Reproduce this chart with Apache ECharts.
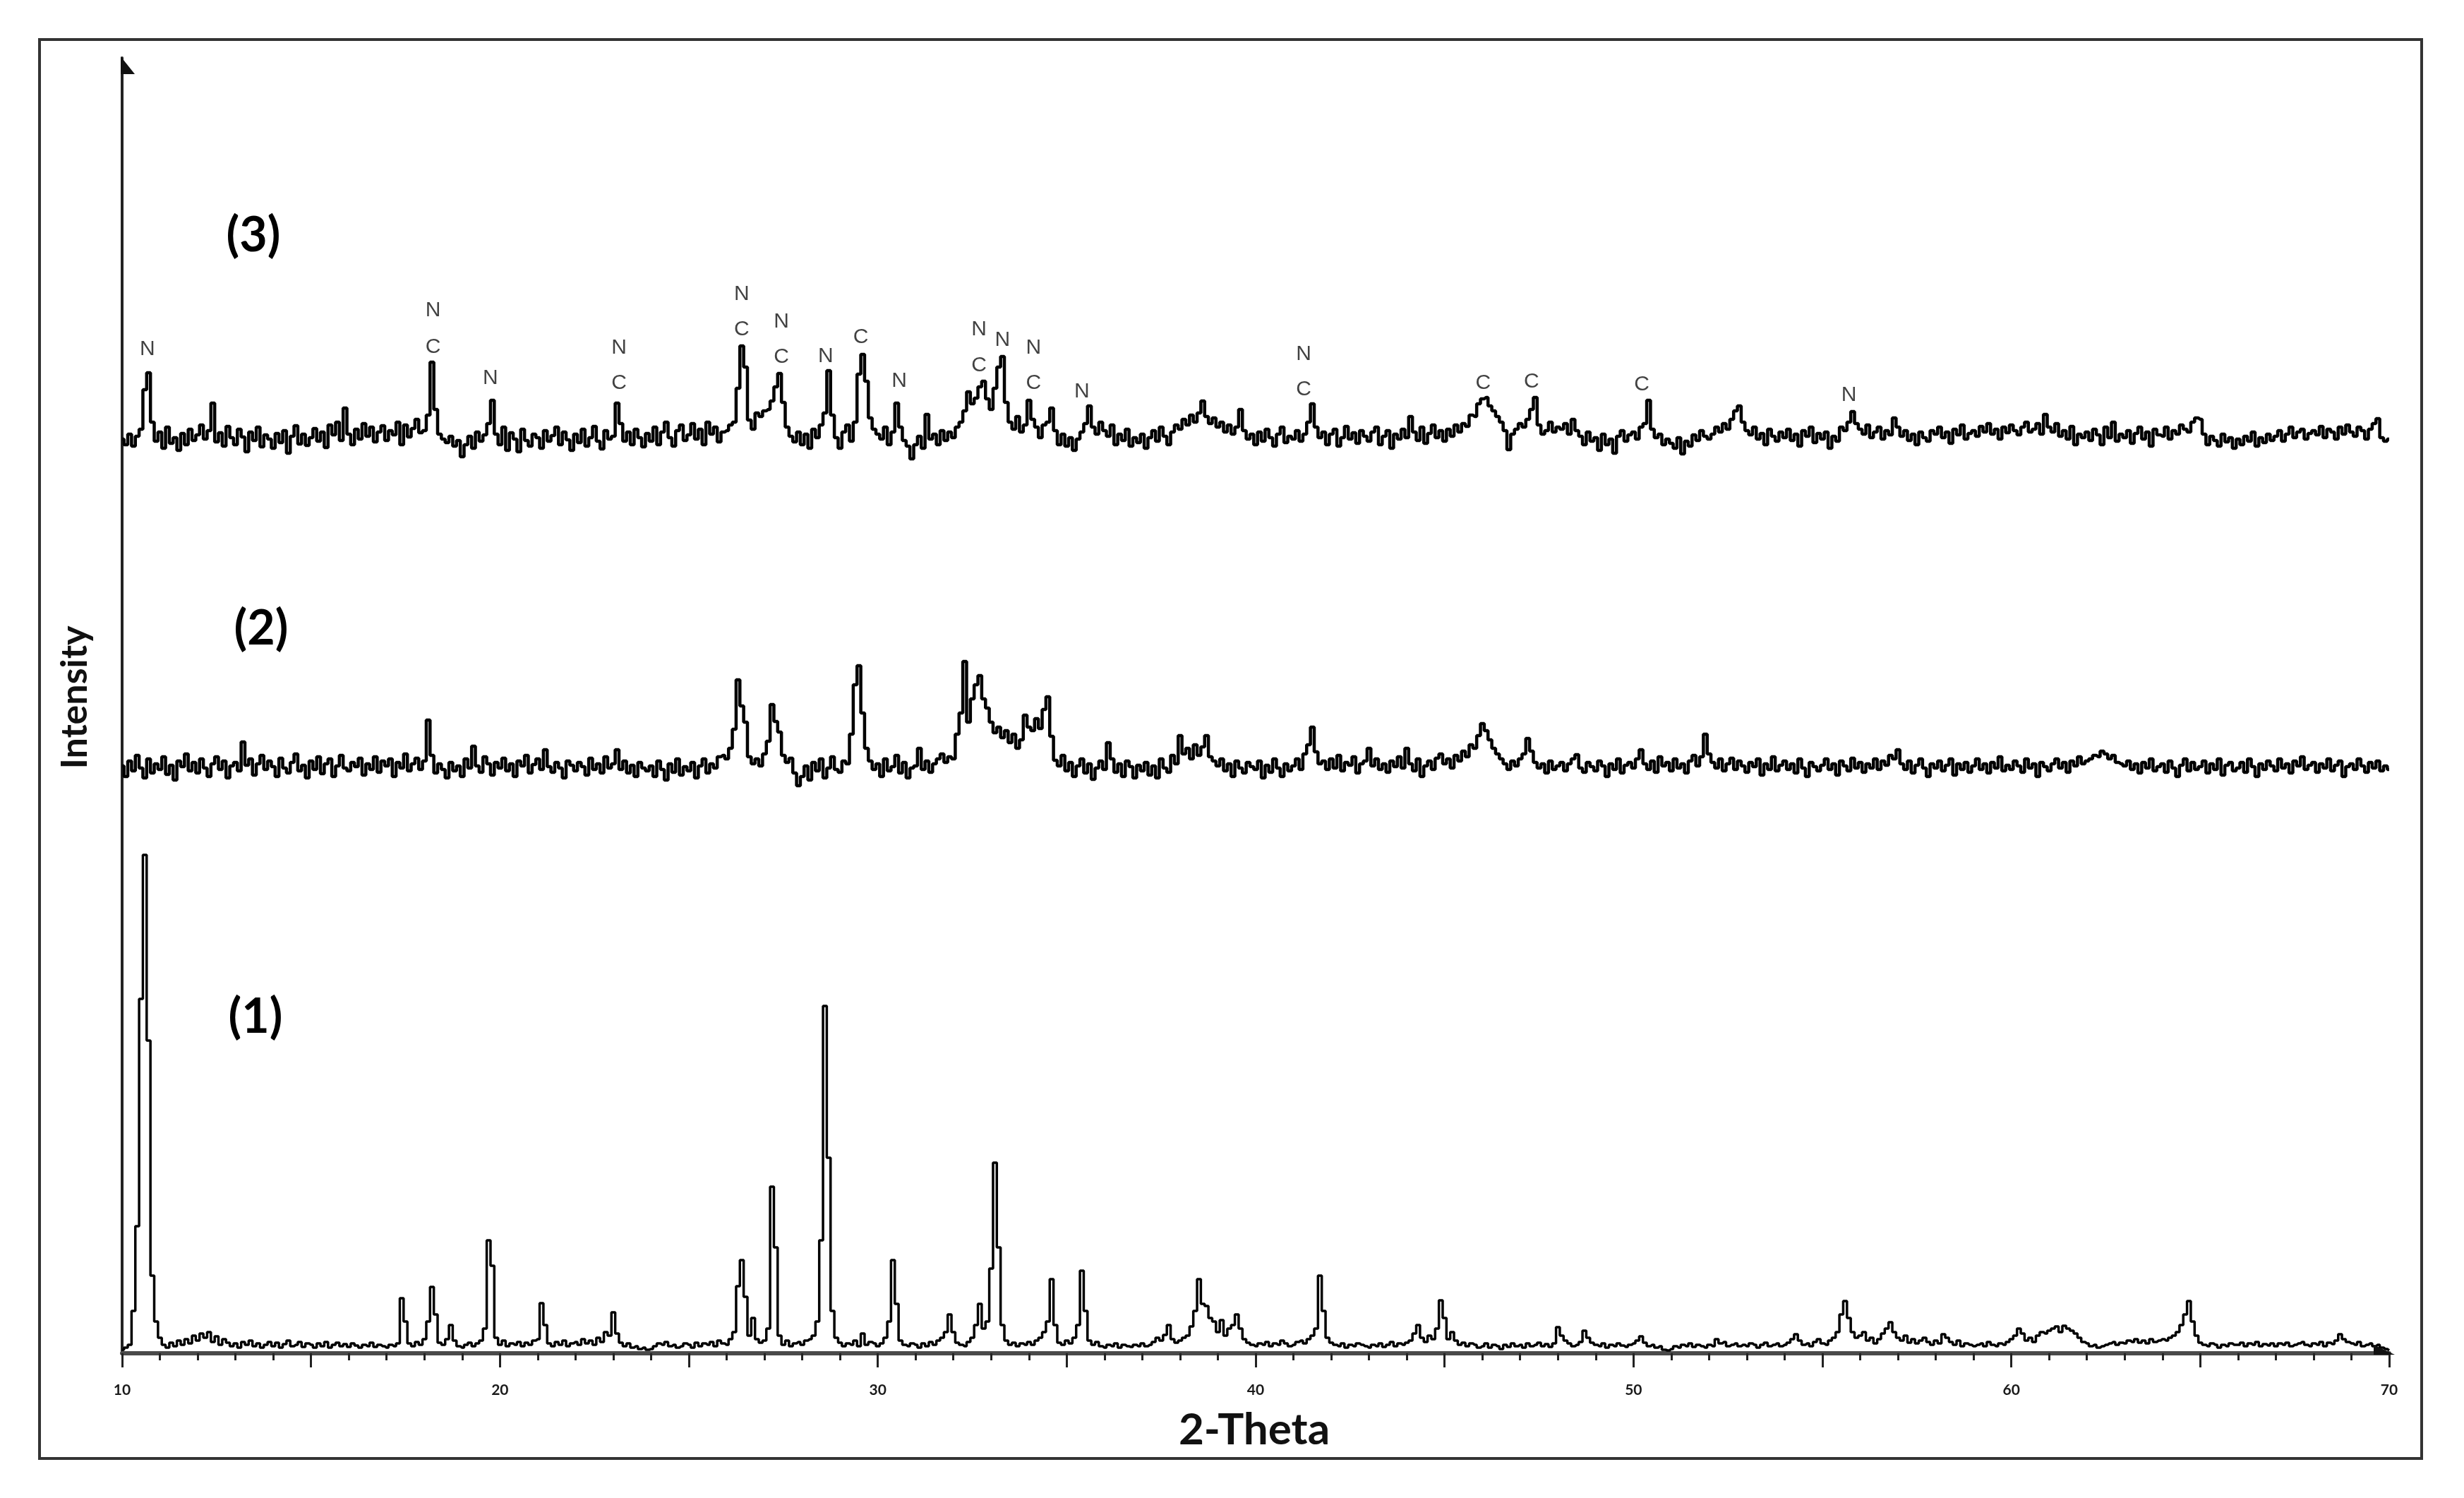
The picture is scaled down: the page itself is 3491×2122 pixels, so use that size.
<!DOCTYPE html>
<html>
<head>
<meta charset="utf-8">
<script src="https://cdn.jsdelivr.net/npm/echarts@6/dist/echarts.min.js"></script>
<style>
  html, body { margin: 0; padding: 0; background: #ffffff; }
  #chart { width: 3491px; height: 2122px; }
</style>
</head>
<body>
<div id="chart"></div>
<script>
// ---------------- DATA ----------------
// 2-Theta sampling grid: 10.0 .. 70.0 in steps of 0.1
const thetaStart = 10;
const thetaStep = 0.1;

// Pattern (1) intensities (one row per degree, 10 samples each)
const pattern1 = [
  5,8,12,60,180,502,706,443,110,45,      // 10
  22,12,8,15,10,18,12,20,14,25,          // 11
  18,28,22,30,16,24,12,20,15,10,         // 12
  14,8,16,12,18,10,14,8,12,16,           // 13
  10,15,8,13,18,10,12,16,9,14,           // 14
  12,8,14,10,16,8,12,15,10,13,           // 15
  9,14,11,8,12,10,15,9,12,10,            // 16
  8,12,10,14,78,45,14,10,16,12,          // 17
  20,45,94,55,15,12,20,40,18,10,         // 18
  8,12,15,10,14,18,35,160,124,22,        // 19
  12,18,10,14,12,16,10,15,12,18,         // 20
  20,71,40,14,10,16,12,18,10,14,         // 21
  16,12,20,14,18,12,22,16,30,25,         // 22
  58,28,15,10,14,8,10,6,8,5,             // 23
  6,10,14,12,16,10,12,8,10,14,           // 24
  12,8,15,10,14,12,16,10,18,14,          // 25
  12,20,30,95,132,80,25,50,20,15,        // 26
  18,35,236,150,25,12,18,10,14,16,       // 27
  12,18,20,25,45,160,492,277,60,22,      // 28
  15,10,14,12,18,10,28,12,16,14,         // 29
  10,14,22,45,132,70,18,12,10,14,        // 30
  12,8,14,10,16,12,18,22,30,55,          // 31
  30,15,12,10,16,22,40,70,35,45,         // 32
  120,270,150,40,18,12,15,10,14,12,      // 33
  16,12,18,22,30,45,105,40,15,12,        // 34
  18,14,22,40,117,60,18,12,16,10,        // 35
  8,12,10,14,8,12,10,9,12,10,            // 36
  14,10,12,16,22,18,26,40,20,15,         // 37
  18,22,25,38,60,105,70,67,50,45,        // 38
  30,47,25,35,40,55,35,20,15,12,         // 39
  10,14,12,16,10,14,12,18,14,10,         // 40
  12,16,18,14,20,25,35,110,60,22,        // 41
  15,12,10,14,8,12,10,14,12,10,          // 42
  8,12,10,14,9,12,16,10,14,12,           // 43
  15,18,28,40,22,16,25,20,35,75,         // 44
  50,20,30,18,12,15,10,14,12,8,          // 45
  10,14,8,12,10,6,12,9,14,10,            // 46
  12,8,14,10,12,15,10,13,9,14,           // 47
  37,25,18,14,10,12,16,32,22,15,         // 48
  12,10,14,8,12,10,14,11,9,12,           // 49
  14,18,24,15,10,12,8,10,5,4,            // 50
  6,10,8,12,10,14,9,12,10,8,             // 51
  12,10,20,14,16,10,12,14,10,12,         // 52
  10,14,12,8,12,15,10,12,14,10,          // 53
  12,15,20,27,18,12,14,10,16,20,         // 54
  14,12,18,22,30,55,74,50,30,22,         // 55
  25,30,18,22,14,20,28,35,44,30,         // 56
  22,18,25,15,20,14,18,22,16,12,         // 57
  18,14,27,22,16,12,18,10,14,12,         // 58
  10,12,14,10,16,12,10,14,12,16,         // 59
  20,25,35,28,18,22,16,25,30,28,         // 60
  32,35,38,30,39,35,32,28,22,16,         // 61
  14,10,12,8,10,12,14,16,12,15,          // 62
  14,18,16,20,15,18,14,20,16,18,         // 63
  20,18,22,25,30,40,55,74,45,25,         // 64
  15,12,10,14,12,8,12,10,14,12,          // 65
  12,15,10,14,12,16,10,13,11,14,         // 66
  10,14,12,15,10,12,14,16,12,10,         // 67
  14,12,16,10,15,13,18,27,20,16,         // 68
  14,12,16,10,12,14,10,12,8,6,           // 69
  4                                      // 70
];

// Pattern (2) intensities
const pattern2 = [
  45,30,52,38,60,42,28,55,35,48,         // 10
  40,58,33,46,25,52,44,62,38,50,         // 11
  35,55,42,30,48,58,40,52,28,45,         // 12
  50,38,79,46,55,32,48,60,40,52,         // 13
  44,30,56,42,35,50,62,38,46,28,         // 14
  52,40,58,34,48,55,30,45,60,42,         // 15
  38,50,44,56,32,48,40,58,36,52,         // 16
  45,55,30,50,42,62,38,48,56,40,         // 17
  52,110,60,35,48,40,28,50,38,45,        // 18
  30,55,42,73,45,36,58,48,32,50,         // 19
  42,56,38,48,30,52,45,60,35,47,         // 20
  55,40,68,44,36,50,42,28,52,46,         // 21
  38,50,44,32,56,40,48,35,58,42,         // 22
  48,68,40,52,35,46,30,50,42,38,         // 23
  45,30,52,40,25,48,36,55,32,44,         // 24
  38,50,28,45,55,35,48,42,58,60,         // 25
  55,70,97,167,130,107,58,48,55,45,      // 26
  62,80,132,108,93,60,50,56,35,17,       // 27
  30,45,25,50,38,55,28,42,58,40,         // 28
  36,52,48,90,160,187,120,70,52,40,      // 29
  48,30,55,38,44,60,35,50,28,42,         // 30
  45,70,40,52,36,48,55,62,50,58,         // 31
  55,90,120,193,107,140,160,173,140,127, // 32
  107,92,100,85,95,78,90,70,82,117,      // 33
  100,95,112,98,125,143,87,53,45,60,     // 34
  38,50,30,45,55,35,48,26,42,52,         // 35
  40,78,55,36,48,30,52,44,28,46,         // 36
  38,50,32,45,28,55,42,36,60,48,         // 37
  88,62,70,55,75,60,72,88,58,52,         // 38
  45,55,38,48,30,52,42,35,50,44,         // 39
  40,52,28,46,36,55,42,30,48,38,         // 40
  45,55,40,62,75,100,65,48,52,40,        // 41
  55,42,60,38,50,46,58,35,48,52,         // 42
  70,45,55,40,48,36,52,44,58,42,         // 43
  70,48,38,55,30,45,52,40,56,62,         // 44
  48,55,42,60,52,66,58,75,70,88,         // 45
  105,95,82,70,62,55,48,40,52,45,        // 46
  55,62,84,66,50,42,48,35,52,40,         // 47
  45,50,38,48,55,61,42,36,50,44,         // 48
  38,52,45,30,48,40,55,35,46,50,         // 49
  42,55,68,48,40,52,36,58,45,50,         // 50
  38,55,42,48,35,52,60,45,58,90,         // 51
  62,50,42,55,38,48,56,40,52,45,         // 52
  36,50,44,55,32,48,40,58,38,46,         // 53
  52,40,48,35,55,42,30,50,44,38,         // 54
  46,55,40,48,32,52,45,38,56,42,         // 55
  50,36,48,42,55,40,52,46,60,55,         // 56
  68,48,40,52,35,46,55,42,30,48,         // 57
  42,52,38,46,55,32,48,40,50,36,         // 58
  45,55,40,48,35,50,42,58,38,46,         // 59
  40,52,45,36,55,42,48,30,50,44,         // 60
  38,48,55,42,50,36,52,45,58,48,         // 61
  52,55,60,58,66,62,55,60,50,48,         // 62
  45,52,40,48,35,50,42,55,38,44,         // 63
  48,36,52,42,30,46,55,38,50,40,         // 64
  44,52,35,48,40,55,32,46,50,38,         // 65
  42,50,36,55,44,30,48,40,52,45,         // 66
  38,55,42,48,35,52,45,58,40,46,         // 67
  50,36,48,42,55,38,46,52,30,44,         // 68
  48,40,55,45,36,50,42,52,38,45,         // 69
  40                                     // 70
];

// Pattern (3) intensities
const pattern3 = [
  38,30,45,28,42,52,108,132,62,35,       // 10
  48,25,55,32,40,22,46,30,52,36,         // 11
  44,58,38,50,89,34,47,28,56,40,         // 12
  30,52,41,20,48,36,55,27,44,38,         // 13
  25,46,33,50,18,42,57,31,45,29,         // 14
  40,53,35,48,26,58,44,62,36,82,         // 15
  45,30,52,38,60,42,55,34,48,57,         // 16
  36,50,44,62,30,58,41,53,66,47,         // 17
  50,72,147,80,45,38,33,42,28,36,        // 18
  13,30,42,25,48,35,44,60,93,45,         // 19
  30,55,22,47,38,20,52,36,28,45,         // 20
  40,25,50,35,43,55,30,48,37,22,         // 21
  45,33,52,28,40,56,35,24,50,38,         // 22
  42,89,60,35,48,30,52,40,27,46,         // 23
  35,55,30,48,62,40,28,50,58,36,         // 24
  44,60,38,52,30,62,45,55,34,48,         // 25
  50,58,62,110,170,140,65,52,75,70,      // 26
  78,80,92,112,131,90,55,42,34,48,       // 27
  30,45,25,52,40,58,75,135,72,40,        // 28
  25,48,58,35,62,130,158,120,68,52,      // 29
  45,38,55,30,48,89,55,36,28,10,         // 30
  30,42,25,73,38,45,30,50,36,48,         // 31
  40,55,62,78,105,88,96,112,120,95,      // 32
  80,110,140,155,90,62,52,70,48,58,      // 33
  93,66,55,40,58,62,82,50,30,45,         // 34
  28,40,22,38,48,60,85,55,45,62,         // 35
  50,42,58,30,45,36,52,28,40,33,         // 36
  45,25,40,50,35,55,42,30,48,58,         // 37
  52,66,58,72,62,75,92,70,60,68,         // 38
  55,62,48,58,45,55,80,50,38,45,         // 39
  30,48,35,52,40,28,45,55,33,42,         // 40
  38,50,35,45,62,88,55,40,48,30,         // 41
  45,52,28,40,56,38,47,32,50,42,         // 42
  35,48,55,30,42,50,25,45,38,52,         // 43
  40,70,48,36,55,32,46,58,40,50,         // 44
  35,52,42,58,48,60,56,72,70,88,         // 45
  95,97,85,78,70,62,50,23,45,52,         // 46
  60,55,66,80,97,58,45,50,62,48,         // 47
  55,52,60,45,66,50,42,30,48,35,         // 48
  40,22,45,30,38,18,42,50,35,44,         // 49
  48,38,55,60,93,52,40,45,30,38,         // 50
  32,25,40,17,35,28,44,36,50,42,         // 51
  38,45,55,48,60,52,66,78,85,62,         // 52
  50,44,55,38,46,30,52,42,35,48,         // 53
  40,52,36,45,28,50,42,55,33,46,         // 54
  38,48,25,42,35,55,50,62,77,60,         // 55
  52,45,58,40,48,55,38,50,44,68,         // 56
  55,42,50,36,45,30,48,40,35,50,         // 57
  45,55,40,48,32,52,44,58,38,46,         // 58
  50,42,56,48,60,45,52,38,55,47,         // 59
  58,50,44,55,62,48,52,60,45,73,         // 60
  55,48,60,42,50,38,56,30,45,40,         // 61
  48,36,52,44,30,55,40,62,35,45,         // 62
  40,50,32,46,55,38,48,28,52,44,         // 63
  42,55,38,50,45,58,52,48,62,68,         // 64
  66,45,30,42,36,28,45,34,40,25,         // 65
  38,30,42,35,48,28,40,33,45,36,         // 66
  42,50,35,45,55,40,48,52,38,46,         // 67
  50,44,56,40,52,48,38,55,45,58,         // 68
  48,42,55,50,38,52,60,67,40,35,         // 69
  38                                     // 70
];

// Phase labels on pattern (3): 2-Theta, intensity level (pattern 3 units), letter
const annoTheta = [10.67, 18.23, 18.23, 19.75, 23.15, 23.15, 26.40, 26.40, 27.45, 27.45,
                   28.62, 29.55, 30.57, 32.68, 32.68, 33.30, 34.12, 34.12, 35.40,
                   41.27, 41.27, 46.02, 47.30, 50.22, 55.70];
const annoLevel = [165, 220, 168, 124, 167, 117, 243, 193, 204, 154,
                   155, 182, 120, 193, 142, 178, 167, 117, 105,
                   158, 108, 117, 119, 115, 100];
const annoText  = ['N', 'N', 'C', 'N', 'N', 'C', 'N', 'C', 'N', 'C',
                   'N', 'C', 'N', 'N', 'C', 'N', 'N', 'C', 'N',
                   'N', 'C', 'C', 'C', 'C', 'N'];

const patternNames = ['(1)', '(2)', '(3)'];

// ---------------- LAYOUT ----------------
const W = 3491, H = 2122;
const GRID_LEFT = 173, GRID_RIGHT = 106, GRID_TOP = 82, GRID_BOTTOM = 205;
const Y_MAX = H - GRID_TOP - GRID_BOTTOM;   // value units == pixels
const OFFSET1 = 0, OFFSET2 = 787, OFFSET3 = 1257;  // vertical stacking of the patterns

function toPairs(arr, off) {
  return arr.map((v, i) => [Math.round((thetaStart + i * thetaStep) * 10) / 10, v + off]);
}

const chart = echarts.init(document.getElementById('chart'), null, { renderer: 'canvas' });

const axisY = H - GRID_BOTTOM;
const axisXEnd = W - GRID_RIGHT;

const lineSeries = (data, off, width) => ({
  type: 'line',
  data: toPairs(data, off),
  step: 'middle',
  showSymbol: false,
  symbol: 'none',
  lineStyle: { color: '#000000', width: width },
  silent: true,
  z: 3
});

chart.setOption({
  backgroundColor: '#ffffff',
  animation: false,
  grid: { left: GRID_LEFT, right: GRID_RIGHT, top: GRID_TOP, bottom: GRID_BOTTOM, containLabel: false },
  xAxis: {
    type: 'value',
    min: 10,
    max: 70,
    interval: 5,
    axisLine: { show: true, onZero: false, lineStyle: { color: '#4a4a4a', width: 6 } },
    axisTick: { show: true, length: 20, lineStyle: { color: '#222', width: 3 } },
    minorTick: { show: true, splitNumber: 5, length: 10, lineStyle: { color: '#222', width: 3 } },
    axisLabel: {
      show: true,
      showMinLabel: true,
      showMaxLabel: true,
      margin: 42,
      fontSize: 21,
      fontFamily: 'Lato',
      fontWeight: 'bold',
      color: '#1a1a1a',
      formatter: v => (Math.round(v) % 10 === 0 ? String(Math.round(v)) : '')
    },
    splitLine: { show: false },
    minorSplitLine: { show: false }
  },
  yAxis: {
    type: 'value',
    min: 0,
    max: Y_MAX,
    axisLine: { show: true, onZero: false, lineStyle: { color: '#222', width: 4 } },
    axisTick: { show: false },
    axisLabel: { show: false },
    splitLine: { show: false }
  },
  series: [
    lineSeries(pattern1, OFFSET1, 3.5),
    lineSeries(pattern2, OFFSET2, 4.5),
    lineSeries(pattern3, OFFSET3, 4.5),
    {
      type: 'scatter',
      data: annoTheta.map((t, i) => [t, annoLevel[i] + OFFSET3, annoText[i]]),
      symbolSize: 1,
      itemStyle: { color: 'rgba(0,0,0,0)' },
      silent: true,
      z: 5,
      label: {
        show: true,
        position: 'inside',
        formatter: p => p.data[2],
        fontSize: 30,
        fontFamily: 'Liberation Sans',
        color: '#111'
      }
    }
  ],
  graphic: [
    { type: 'rect', shape: { x: 56, y: 56, width: 3375, height: 2010 },
      style: { fill: 'none', stroke: '#333', lineWidth: 4 }, z: 10 },
    // half arrow heads on the axes
    { type: 'polygon', shape: { points: [[GRID_LEFT - 2, GRID_TOP - 2], [GRID_LEFT + 18, GRID_TOP + 23], [GRID_LEFT - 2, GRID_TOP + 23]] },
      style: { fill: '#111' }, z: 10 },
    { type: 'polygon', shape: { points: [[axisXEnd - 22, axisY - 12], [axisXEnd + 8, axisY + 2], [axisXEnd - 22, axisY + 2]] },
      style: { fill: '#111' }, z: 10 },
    { type: 'text', x: 359, y: 334,
      style: { text: patternNames[2], fontSize: 68, fontWeight: 'bold', fontFamily: 'Lato', fill: '#000', align: 'center', verticalAlign: 'middle' }, z: 10 },
    { type: 'text', x: 370, y: 891,
      style: { text: patternNames[1], fontSize: 68, fontWeight: 'bold', fontFamily: 'Lato', fill: '#000', align: 'center', verticalAlign: 'middle' }, z: 10 },
    { type: 'text', x: 362, y: 1441,
      style: { text: patternNames[0], fontSize: 68, fontWeight: 'bold', fontFamily: 'Lato', fill: '#000', align: 'center', verticalAlign: 'middle' }, z: 10 },
    { type: 'text', x: 1777, y: 2026,
      style: { text: '2-Theta', fontSize: 62, fontWeight: 'bold', fontFamily: 'Lato', fill: '#111', align: 'center', verticalAlign: 'middle' }, z: 10 },
    { type: 'text', x: 106, y: 988, rotation: Math.PI / 2,
      style: { text: 'Intensity', fontSize: 52, fontWeight: 'bold', fontFamily: 'Lato', fill: '#111', align: 'center', verticalAlign: 'middle' }, z: 10 }
  ]
});
</script>
</body>
</html>
